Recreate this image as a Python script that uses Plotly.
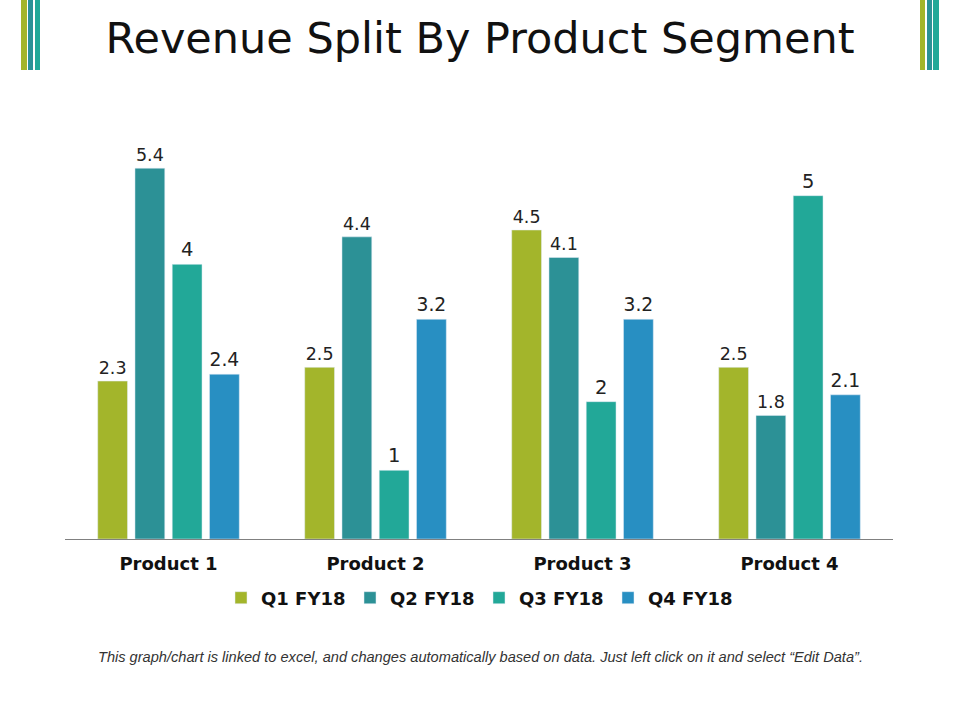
import plotly.graph_objects as go

categories = ["Product 1", "Product 2", "Product 3", "Product 4"]
series_names = ["Q1 FY18", "Q2 FY18", "Q3 FY18", "Q4 FY18"]
q1 = [2.3, 2.5, 4.5, 2.5]
q2 = [5.4, 4.4, 4.1, 1.8]
q3 = [4, 1, 2, 5]
q4 = [2.4, 3.2, 3.2, 2.1]
colors = ["#A3B52B", "#2C9196", "#22A898", "#288FC2"]
label_sizes = [17.5, 17.5, 19.5, 19.5]

W, H = 960, 720
L, R, T, B = 65, 67, 127, 181
pw, ph = W - L - R, H - T - B

def px_x(x):
    return (x - L) / pw

def px_y(y):
    return (H - B - y) / ph

fig = go.Figure()
for name, vals, col, fs in zip(series_names, [q1, q2, q3, q4], colors, label_sizes):
    fig.add_trace(go.Bar(
        x=categories, y=vals, name=name, marker_color=col,
        text=[str(v) for v in vals], textposition="outside",
        textfont=dict(family="DejaVu Sans", size=fs, color="#222222"),
        cliponaxis=False,
    ))

shapes = []
for (x0, x1), col in zip([(21, 27), (28, 33), (35, 40)], ["#A3B52B", "#2C9196", "#22A898"]):
    shapes.append(dict(type="rect", xref="paper", yref="paper",
                       x0=px_x(x0), x1=px_x(x1), y0=px_y(70), y1=px_y(0),
                       fillcolor=col, line_width=0, layer="above"))
for (x0, x1), col in zip([(920, 925), (927, 932), (933, 939)], ["#A3B52B", "#2C9196", "#22A898"]):
    shapes.append(dict(type="rect", xref="paper", yref="paper",
                       x0=px_x(x0), x1=px_x(x1), y0=px_y(70), y1=px_y(0),
                       fillcolor=col, line_width=0, layer="above"))

fig.update_layout(
    width=W, height=H,
    margin=dict(l=L, r=R, t=T, b=B),
    paper_bgcolor="white", plot_bgcolor="white",
    barmode="group", bargap=0.28, bargroupgap=0.2,
    title=dict(text="Revenue Split By Product Segment", x=0.5, xanchor="center",
               y=1 - 38 / H, yanchor="middle",
               font=dict(family="DejaVu Sans", size=43, color="#111111")),
    xaxis=dict(showline=True, linecolor="#808080", linewidth=1,
               tickfont=dict(family="DejaVu Sans", size=18, color="#111111", weight="bold"),
               ticks="", ticklabelstandoff=8, showgrid=False, zeroline=False),
    yaxis=dict(range=[0, 6], visible=False, showgrid=False, zeroline=False),
    legend=dict(orientation="h", x=0.5, xanchor="center", y=px_y(598), yanchor="middle",
                font=dict(family="DejaVu Sans", size=18, color="#111111", weight="bold"),
                itemwidth=30, entrywidth=84, tracegroupgap=0, bgcolor="rgba(0,0,0,0)"),
    shapes=shapes,
    annotations=[dict(
        text="This graph/chart is linked to excel, and changes automatically based on data. Just left click on it and select “Edit Data”.",
        xref="paper", yref="paper", x=px_x(480), y=px_y(657), xanchor="center", yanchor="middle",
        showarrow=False, font=dict(family="Liberation Sans", size=14.6, color="#333333", style="italic"),
    )],
    showlegend=True,
)

fig.write_html("out.html", config={"displayModeBar": False},
               post_script="document.body.style.margin='0';document.body.style.padding='0';")
